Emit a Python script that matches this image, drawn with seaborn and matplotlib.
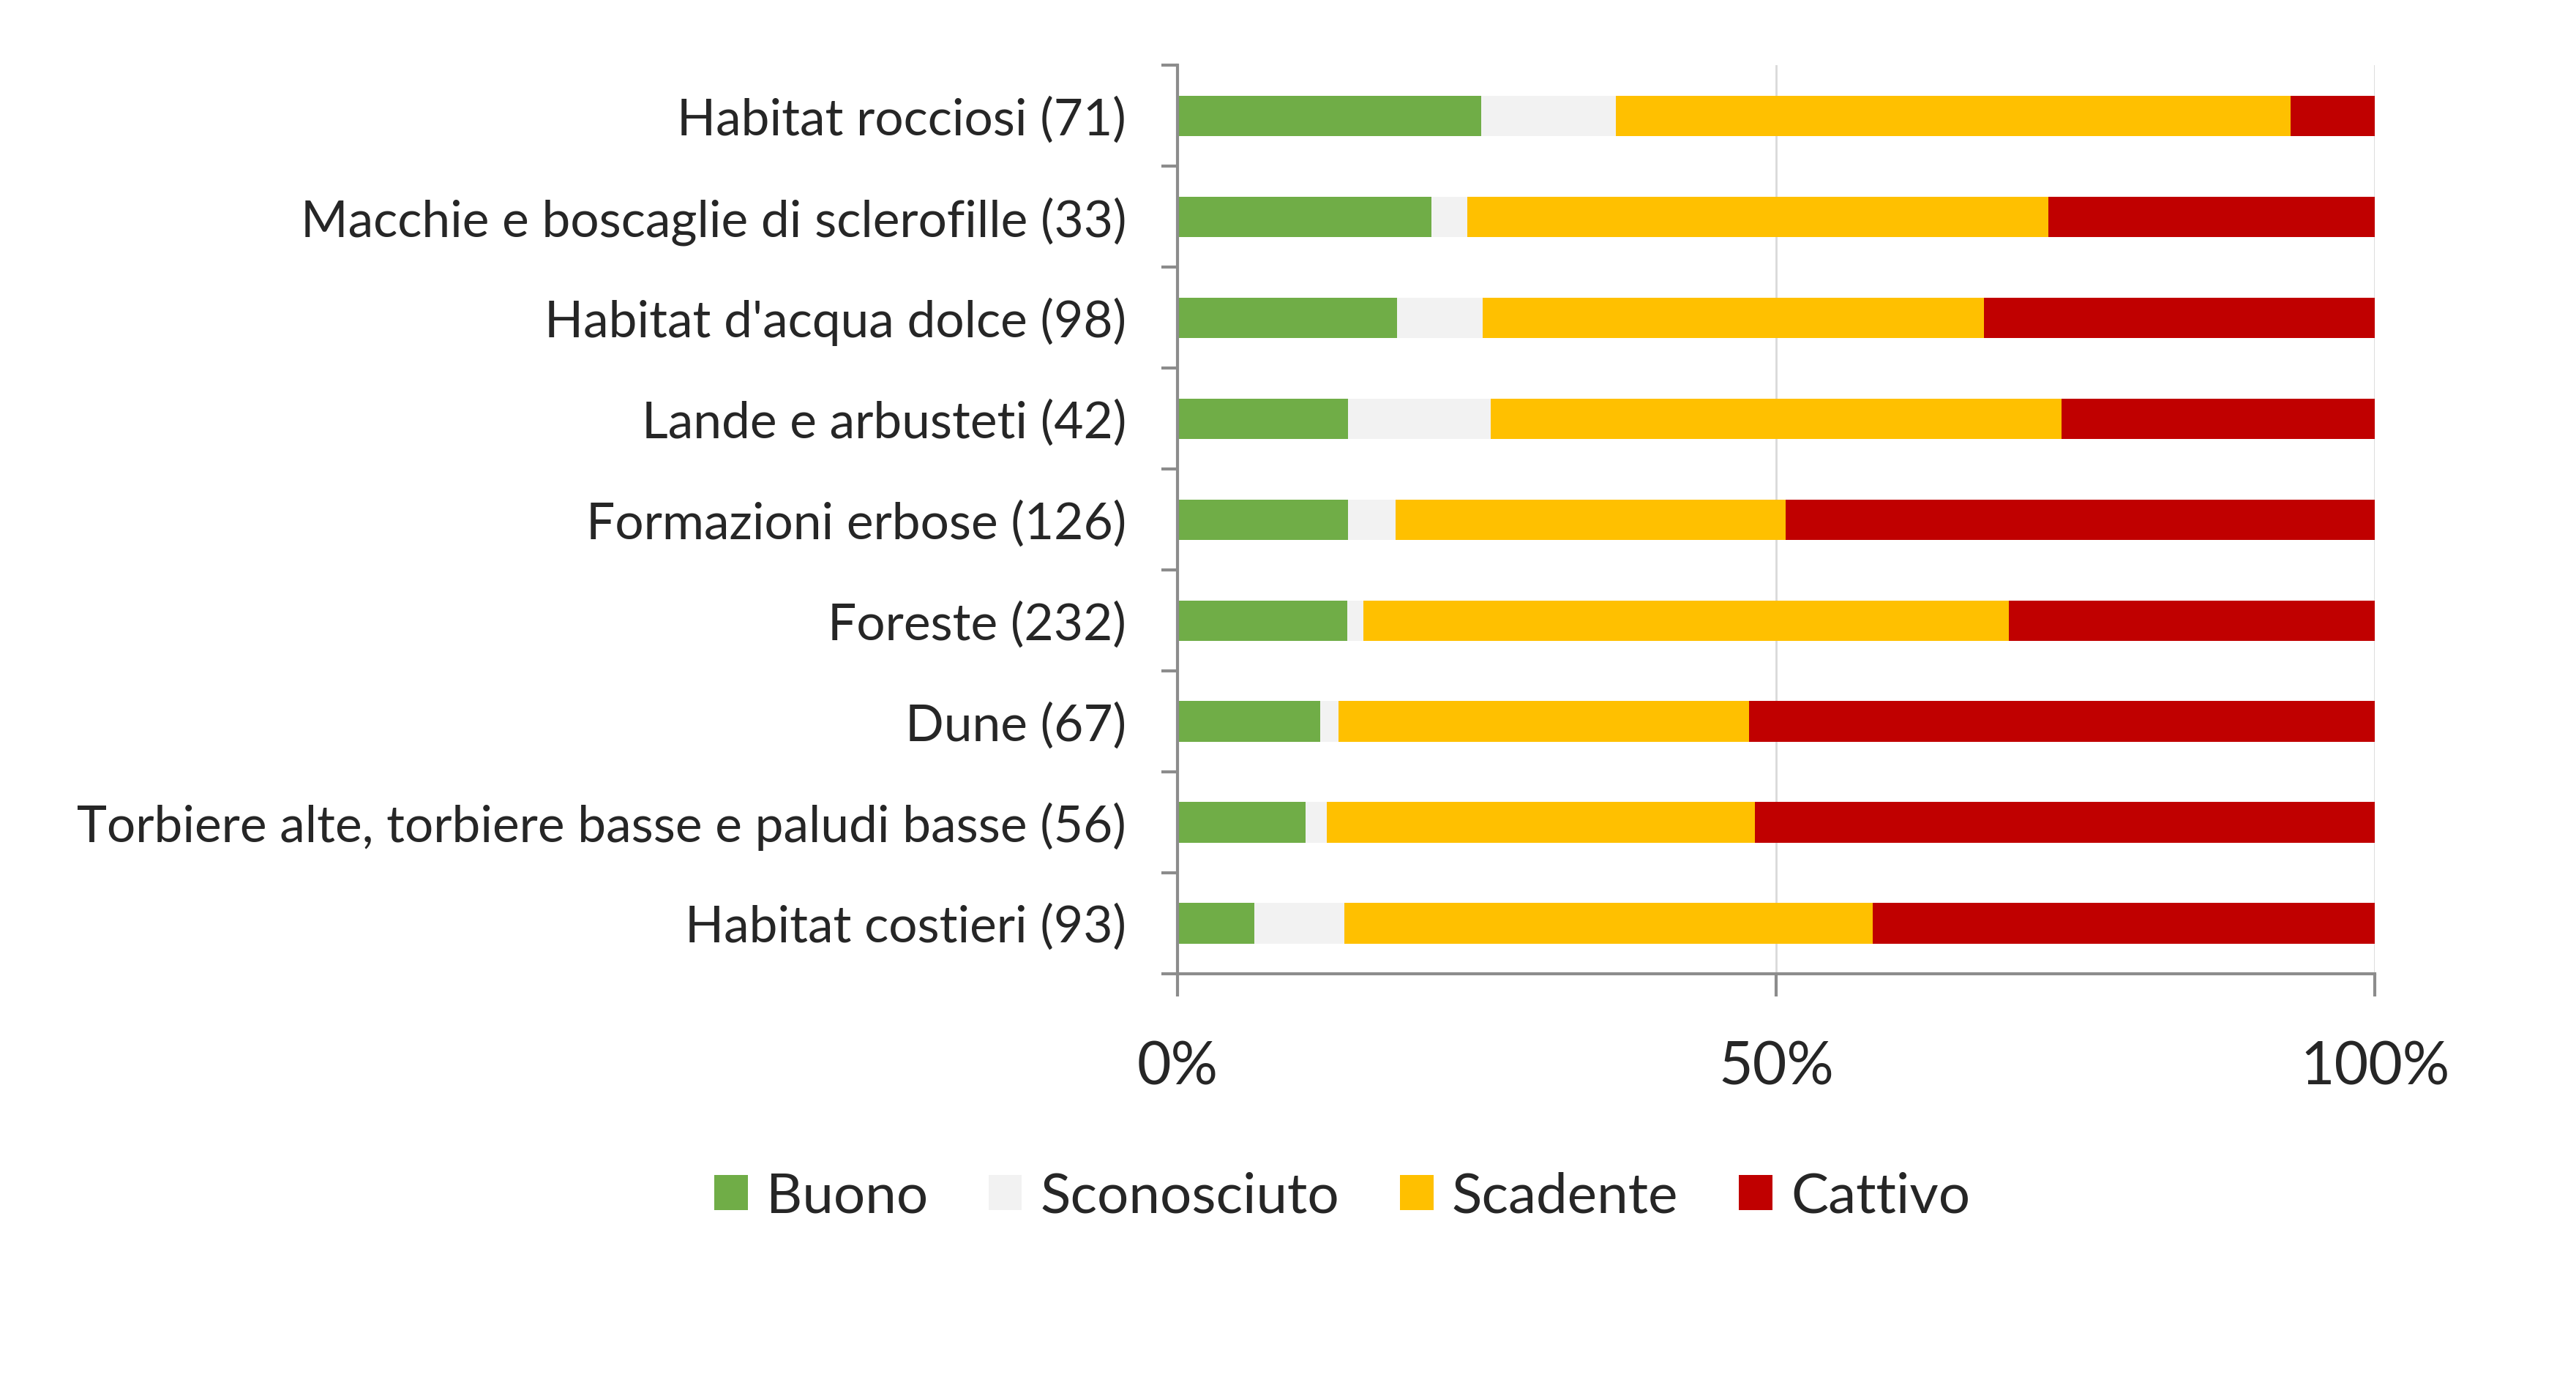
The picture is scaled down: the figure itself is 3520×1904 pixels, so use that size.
import numpy as np
import pandas as pd
import matplotlib
matplotlib.use("Agg")
import matplotlib.pyplot as plt
from matplotlib.patches import Patch
from matplotlib.ticker import FixedLocator, PercentFormatter
import seaborn as sns

# habitat groups, top to bottom, with number of assessments per status
habitats = [
    "Habitat rocciosi (71)",
    "Macchie e boscaglie di sclerofille (33)",
    "Habitat d'acqua dolce (98)",
    "Lande e arbusteti (42)",
    "Formazioni erbose (126)",
    "Foreste (232)",
    "Dune (67)",
    "Torbiere alte, torbiere basse e paludi basse (56)",
    "Habitat costieri (93)",
]
buono = [18, 7, 18, 6, 18, 33, 8, 6, 6]
sconosciuto = [8, 1, 7, 5, 5, 3, 1, 1, 7]
scadente = [40, 16, 41, 20, 41, 125, 23, 20, 41]
cattivo = [5, 9, 32, 11, 62, 71, 35, 29, 39]

status = ["Buono", "Sconosciuto", "Scadente", "Cattivo"]
colors = ["#70AD47", "#F2F2F2", "#FFC000", "#C00000"]

sns.set_style("white")
plt.rcParams["font.family"] = ["Lato", "DejaVu Sans"]

df = pd.DataFrame({"habitat": habitats, "Buono": buono, "Sconosciuto": sconosciuto,
                   "Scadente": scadente, "Cattivo": cattivo})
tot = df[status].sum(axis=1)
pct = df[status].div(tot, axis=0) * 100
cum = pct.cumsum(axis=1)

fig = plt.figure(figsize=(35.2, 19.04), dpi=100)
ax = fig.add_axes([0.457, 0.301, 0.465, 0.652])

# stacked bars: draw cumulative totals from the longest to the shortest
for s, c in reversed(list(zip(status, colors))):
    sns.barplot(x=cum[s].values, y=df["habitat"], orient="h", color=c,
                width=0.4, ax=ax, saturation=1, linewidth=0)

ax.set_xlim(0, 100)
ax.set_ylim(len(habitats) - 0.5, -0.5)
ax.set_xlabel("")
ax.set_ylabel("")

ax.xaxis.set_major_locator(FixedLocator([0, 50, 100]))
ax.xaxis.set_major_formatter(PercentFormatter(decimals=0))
ax.grid(axis="x", color="#D9D9D9", linewidth=2)
ax.set_axisbelow(True)

for side in ["top", "right"]:
    ax.spines[side].set_visible(False)
for side in ["left", "bottom"]:
    ax.spines[side].set_color("#8C8C8C")
    ax.spines[side].set_linewidth(3)

ax.tick_params(axis="x", which="major", length=22, width=3, color="#8C8C8C",
               labelsize=58, pad=44, direction="out", bottom=True)
ax.tick_params(axis="y", which="major", length=0, labelsize=50, pad=50)
ax.yaxis.set_minor_locator(FixedLocator(np.arange(-0.5, len(habitats), 1.0)))
ax.tick_params(axis="y", which="minor", length=16, width=3, color="#8C8C8C",
               direction="out", left=True)

handles = [Patch(facecolor=c, edgecolor="none", label=s) for s, c in zip(status, colors)]
fig.legend(handles=handles, loc="center", bbox_to_anchor=(0.521, 0.141), ncol=4,
           frameon=False, fontsize=55, handlelength=0.6, handleheight=0.6,
           handletextpad=0.33, columnspacing=1.08)

fig.savefig("out.png", dpi=100, facecolor="white")
